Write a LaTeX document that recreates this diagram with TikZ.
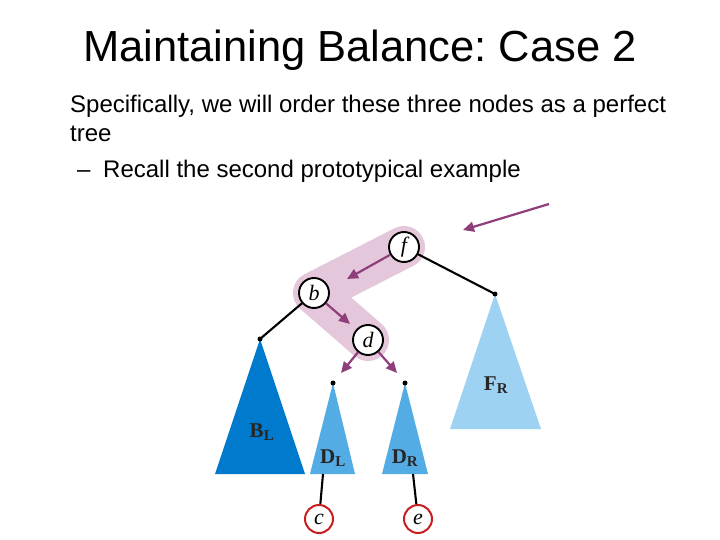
\documentclass[tikz,border=0pt]{standalone}
\usepackage{fontspec}
\setmainfont{Liberation Serif}
\newfontfamily\arialf{Liberation Sans}
\usetikzlibrary{arrows.meta}
\definecolor{bandc}{RGB}{229,199,219}
\definecolor{arrc}{RGB}{142,62,122}
\definecolor{blc}{RGB}{0,122,204}
\definecolor{dlc}{RGB}{84,172,228}
\definecolor{frc}{RGB}{158,210,242}
\definecolor{redc}{RGB}{200,30,30}
\tikzset{
  vnode/.style={circle,draw=black,line width=1.9pt,fill=white,minimum size=30pt,inner sep=0pt,font=\itshape\fontsize{22}{22}\selectfont},
  rnode/.style={circle,draw=redc,line width=2pt,fill=white,minimum size=28pt,inner sep=0pt,font=\itshape\fontsize{22}{22}\selectfont},
  parr/.style={arrc,line width=2.2pt,-{Triangle[length=11pt,width=10pt]}},
  edge/.style={black,line width=2.1pt},
  dot/.style={circle,fill=black,inner sep=0pt,minimum size=5pt},
  tlab/.style={font=\bfseries\fontsize{21}{21}\selectfont,text=black!85,inner sep=0pt},
}
\newcommand{\tl}[2]{#1\textsubscript{\fontsize{15}{15}\selectfont #2}}
\begin{document}
\begin{tikzpicture}[x=1pt,y=-1pt]
\frenchspacing
\useasboundingbox (0,0) rectangle (720,540);
\fill[white] (0,0) rectangle (720,540);
% title and text
\node[anchor=base,font=\arialf\fontsize{43.5}{43.5}\selectfont] (title) at (360,62) {Maintaining Balance: Case 2};
\node[anchor=base west,inner sep=0pt,font=\arialf\fontsize{24}{24}\selectfont] (l1) at (70,113) {Specifically, we will order these three nodes as a perfect};
\node[anchor=base west,inner sep=0pt,font=\arialf\fontsize{24}{24}\selectfont] (l2) at (70,142) {tree};
\node[anchor=base west,inner sep=0pt,font=\arialf\fontsize{24}{24}\selectfont] (l3a) at (77,178) {–};
\node[anchor=base west,inner sep=0pt,font=\arialf\fontsize{24}{24}\selectfont] (l3) at (103,178) {Recall the second prototypical example};
% coordinates
\coordinate (fp) at (404,247);
\coordinate (bp) at (314,293);
\coordinate (dp) at (368,340);
% band
\draw[bandc,line width=42pt,line cap=round,line join=round] (fp) -- (bp) -- (dp);
% triangles
\coordinate (blA) at (260,339);
\coordinate (dlA) at (333,383);
\coordinate (drA) at (405,383);
\coordinate (frA) at (495,294);
\fill[blc] (blA) -- (305,474) -- (215,474) -- cycle;
\fill[dlc] (dlA) -- (355,474) -- (310,474) -- cycle;
\fill[dlc] (drA) -- (428,474) -- (382,474) -- cycle;
\fill[frc] (frA) -- (541,429) -- (450,429) -- cycle;
\node[tlab] (bl) at (262,432) {\tl{B}{L}};
\node[tlab] (dl) at (333,458) {\tl{D}{L}};
\node[tlab] (dr) at (405,458) {\tl{D}{R}};
\node[tlab] (fr) at (496,385) {\tl{F}{R}};
\coordinate (dlB) at (323,474);
\coordinate (drB) at (413,474);
% nodes
\node[vnode] (f) at (fp) {f};
\node[vnode] (b) at (bp) {b};
\node[vnode] (d) at (dp) {d};
\node[rnode] (c) at (319,519) {c};
\node[rnode] (e) at (418,519) {e};
% edges
\draw[edge] (f) -- (frA);
\draw[edge] (b) -- (blA);
\draw[edge] (dlB) -- (c);
\draw[edge] (drB) -- (e);
\node[dot] at (blA) {};
\node[dot] at (dlA) {};
\node[dot] at (drA) {};
\node[dot] at (frA) {};
% arrows
\coordinate (a0) at (549,204);
\coordinate (a1) at (463,230);
\draw[parr] (a0) -- (a1);
\coordinate (fb1) at (347,279);
\draw[parr] (f) -- (fb1);
\coordinate (bd1) at (350,324);
\draw[parr] (b) -- (bd1);
\coordinate (dl1) at (341,373);
\coordinate (dr1) at (397,373);
\draw[parr] (d) -- (dl1);
\draw[parr] (d) -- (dr1);
\end{tikzpicture}
\end{document}
